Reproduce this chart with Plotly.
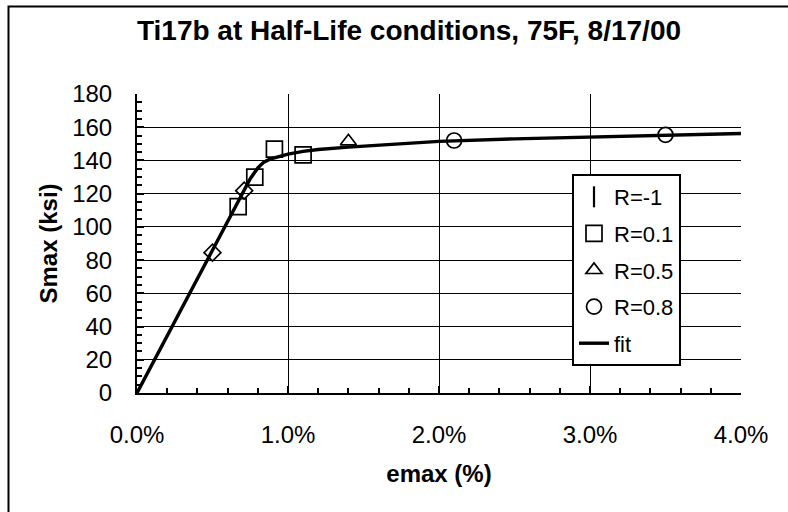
import plotly.graph_objects as go

# Test data: max strain (fraction) and max stress (ksi) per R-ratio
r_m1_strain = [0.0050, 0.0071]
r_m1_stress = [84.5, 121.8]

r_01_strain = [0.0067, 0.0078, 0.0091, 0.0110]
r_01_stress = [112.2, 130.0, 146.8, 143.4]

r_05_strain = [0.0140]
r_05_stress = [151.5]

r_08_strain = [0.0210, 0.0350]
r_08_stress = [152.0, 155.4]

# Fitted cyclic stress-strain curve
fit_strain = [0, 0.002, 0.004, 0.006, 0.0075, 0.0080, 0.0084, 0.0088, 0.0093,
              0.010, 0.011, 0.012, 0.014, 0.017, 0.020, 0.025, 0.030, 0.035, 0.040]
fit_stress = [0, 34.4, 68.8, 103.2, 129.0, 135.5, 139.0, 140.8, 142.2,
              143.8, 145.5, 146.6, 148.0, 150.0, 151.5, 153.0, 154.2, 155.2, 156.2]

FONT = "Liberation Sans, Arial, sans-serif"
W, H = 788, 512
L, R, T, B = 137, 47, 94, 119

fig = go.Figure()

mk_line = dict(color="black", width=1.7)

fig.add_trace(go.Scatter(
    x=r_m1_strain, y=r_m1_stress, mode="markers", name="R=-1",
    legendgroup="a", showlegend=False,
    marker=dict(symbol="diamond-open", size=13, color="black", line=mk_line)))
fig.add_trace(go.Scatter(
    x=[None], y=[None], mode="markers", name="R=-1", legendgroup="a",
    marker=dict(symbol="line-ns-open", size=15, color="black",
                line=dict(color="black", width=2.2))))
fig.add_trace(go.Scatter(
    x=r_01_strain, y=r_01_stress, mode="markers", name="R=0.1", legendgroup="b",
    marker=dict(symbol="square-open", size=16, color="black", line=mk_line)))
fig.add_trace(go.Scatter(
    x=r_05_strain, y=r_05_stress, mode="markers", name="R=0.5", legendgroup="c",
    marker=dict(symbol="triangle-up-open", size=14, color="black", line=mk_line)))
fig.add_trace(go.Scatter(
    x=r_08_strain, y=r_08_stress, mode="markers", name="R=0.8", legendgroup="d",
    marker=dict(symbol="circle-open", size=15, color="black", line=mk_line)))
fig.add_trace(go.Scatter(
    x=fit_strain, y=fit_stress, mode="lines", name="fit", legendgroup="e",
    line=dict(color="black", width=3.4)))

pw = W - L - R
ph = H - T - B

def px_x(p):
    return (p - L) / pw

def px_y(p):
    return (H - B - p) / ph

# Outer chart frame
fig.add_shape(type="rect", xref="paper", yref="paper",
              x0=px_x(8.5), x1=px_x(830), y0=px_y(530), y1=px_y(6.5),
              line=dict(color="black", width=2), fillcolor="rgba(0,0,0,0)",
              layer="below")

fig.update_layout(
    width=W, height=H,
    margin=dict(l=L, r=R, t=T, b=B),
    paper_bgcolor="white", plot_bgcolor="white",
    font=dict(family=FONT, size=24, color="black"),
    title=dict(text="<b>Ti17b at Half-Life conditions, 75F, 8/17/00</b>",
               x=409 / W, xanchor="center", xref="container",
               y=1 - 30 / H, yanchor="middle", yref="container",
               font=dict(family=FONT, size=28, color="black")),
    showlegend=True,
    legend=dict(x=px_x(572), y=px_y(174), xanchor="left", yanchor="top",
                bgcolor="white", bordercolor="black", borderwidth=2,
                font=dict(family=FONT, size=22, color="black"),
                traceorder="grouped", tracegroupgap=5,
                entrywidth=116, entrywidthmode="pixels",
                itemwidth=30),
    xaxis=dict(range=[0, 0.04], dtick=0.01, tickformat=".1%",
               showgrid=True, gridcolor="black", gridwidth=1,
               showline=True, linecolor="black", linewidth=2,
               zeroline=False,
               ticks="inside", ticklen=7, tickwidth=1.5, tickcolor="black",
               ticklabelstandoff=19,
               tickfont=dict(family=FONT, size=24),
               minor=dict(dtick=0.002, ticks="inside", ticklen=5,
                          tickwidth=1.5, tickcolor="black", showgrid=False),
               title=dict(text="<b>emax (%)</b>", standoff=18,
                          font=dict(family=FONT, size=24))),
    yaxis=dict(range=[0, 180], dtick=20,
               showgrid=True, gridcolor="black", gridwidth=1,
               showline=True, linecolor="black", linewidth=2,
               zeroline=False,
               ticks="inside", ticklen=7, tickwidth=1.5, tickcolor="black",
               ticklabelstandoff=18,
               tickfont=dict(family=FONT, size=24),
               minor=dict(dtick=5, ticks="inside", ticklen=5,
                          tickwidth=1.5, tickcolor="black", showgrid=False),
               title=dict(text="<b>Smax (ksi)</b>", standoff=8,
                          font=dict(family=FONT, size=24))),
)

fig.write_html("out.html")
